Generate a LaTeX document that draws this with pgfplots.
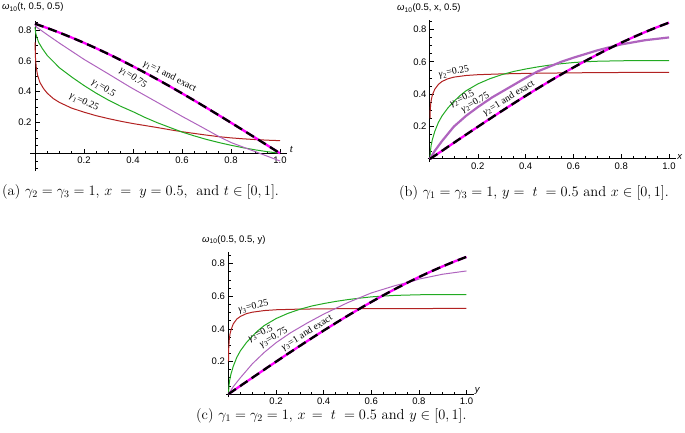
\documentclass[border=0pt]{standalone}
\usepackage{pgfplots}
\pgfplotsset{compat=1.18}
\usepackage{fontspec}
\newfontfamily\arial{Liberation Sans}
\newfontfamily\tnr{Liberation Serif}
\definecolor{cred}{RGB}{178,34,34}
\definecolor{cgreen}{RGB}{34,170,34}
\definecolor{cpurple}{RGB}{175,100,190}
\definecolor{cmag}{RGB}{255,0,255}
\pgfplotsset{
  mma/.style={
    scale only axis, axis lines=middle, clip=false,
    axis line style={-, line width=1.0pt},
    every tick/.style={black, line width=0.6pt},
    major tick length=4.5pt, minor tick length=2.5pt,
    tick align=inside,
    xtick={0.2,0.4,0.6,0.8,1}, xticklabels={0.2,0.4,0.6,0.8,1.0},
    ytick={0.2,0.4,0.6,0.8}, yticklabels={0.2,0.4,0.6,0.8},
    minor xtick={0.05,0.1,0.15,0.25,0.3,0.35,0.45,0.5,0.55,0.65,0.7,0.75,0.85,0.9,0.95},
    tick label style={font=\arial\fontsize{9.5}{11}\selectfont},
    every axis plot/.style={line width=1.0pt, no markers},
  },
  exactm/.style={cmag, line width=2.3pt},
  exactk/.style={black, line width=2.3pt, dash pattern=on 9pt off 5pt},
}
\tikzset{lab/.style={font=\tnr\fontsize{9.8}{11}\selectfont, inner sep=0pt}}
\newcommand{\g}[1]{\textit{γ}\textsubscript{#1}}
\begin{document}
\begin{tikzpicture}
\useasboundingbox (0pt,0pt) rectangle (685pt,-433pt);
% ---------------- panel (a)
\begin{axis}[mma, at={(30.1pt,-171.0pt)}, anchor=south west, width=257.25pt, height=150.15pt,
  xmin=-0.02, xmax=1.03, ymin=-0.115, ymax=0.86,
  minor ytick={-0.1,-0.05,0.05,0.1,0.15,0.25,0.3,0.35,0.45,0.5,0.55,0.65,0.7,0.75,0.85}]
\addplot[cred] coordinates {(0,0.72)(0.002,0.62)(0.005,0.56)(0.01,0.51)(0.02,0.46)(0.035,0.42)(0.05,0.39)(0.075,0.355)(0.1,0.33)(0.15,0.293)(0.2,0.267)(0.25,0.244)(0.3,0.225)(0.35,0.208)(0.4,0.193)(0.45,0.18)(0.5,0.167)(0.55,0.153)(0.6,0.14)(0.65,0.129)(0.7,0.118)(0.75,0.108)(0.8,0.1)(0.85,0.094)(0.9,0.089)(0.95,0.085)(1,0.082)};
\addplot[cgreen] coordinates {(0,0.82)(0.003,0.78)(0.008,0.75)(0.015,0.72)(0.03,0.68)(0.05,0.635)(0.075,0.595)(0.1,0.555)(0.15,0.495)(0.2,0.44)(0.25,0.39)(0.3,0.345)(0.35,0.305)(0.4,0.27)(0.45,0.232)(0.5,0.198)(0.55,0.168)(0.6,0.138)(0.65,0.113)(0.7,0.09)(0.75,0.07)(0.8,0.052)(0.85,0.036)(0.9,0.022)(0.95,0.01)(1,0.0)};
\addplot[cpurple] coordinates {(0,0.83)(0.01,0.815)(0.05,0.77)(0.1,0.715)(0.2,0.61)(0.3,0.515)(0.388,0.43)(0.5,0.33)(0.6,0.24)(0.673,0.177)(0.755,0.105)(0.8,0.07)(0.87,0.028)(0.95,-0.02)(1,-0.05)};
\addplot[exactm] coordinates {(0,0.84147)(0.05,0.81342)(0.1,0.78333)(0.15,0.75128)(0.2,0.71736)(0.25,0.68164)(0.3,0.64422)(0.35,0.60519)(0.4,0.56464)(0.45,0.52269)(0.5,0.47943)(0.55,0.43497)(0.6,0.38942)(0.65,0.34290)(0.7,0.29552)(0.75,0.24740)(0.8,0.19867)(0.85,0.14944)(0.9,0.09983)(0.95,0.04998)(1,0)};
\addplot[exactk] coordinates {(0,0.84147)(0.05,0.81342)(0.1,0.78333)(0.15,0.75128)(0.2,0.71736)(0.25,0.68164)(0.3,0.64422)(0.35,0.60519)(0.4,0.56464)(0.45,0.52269)(0.5,0.47943)(0.55,0.43497)(0.6,0.38942)(0.65,0.34290)(0.7,0.29552)(0.75,0.24740)(0.8,0.19867)(0.85,0.14944)(0.9,0.09983)(0.95,0.04998)(1,0)};
\node[lab, rotate=-27] at (axis cs:0.55,0.50) {\g{1}=1 and exact};
\node[lab, rotate=-34] at (axis cs:0.40,0.49) {\g{1}=0.75};
\node[lab, rotate=-32] at (axis cs:0.28,0.42) {\g{1}=0.5};
\node[lab, rotate=-25] at (axis cs:0.20,0.33) {\g{1}=0.25};
\node[anchor=west, inner sep=1pt] at (axis cs:1.035,0.025) {\tnr\itshape\fontsize{11}{12}\selectfont t};
\end{axis}
\node[anchor=base west, inner sep=0pt] at (2pt,-10pt) {\arial\fontsize{9.5}{11}\selectfont\textit{ω}\textsubscript{10}(t, 0.5, 0.5)};
\node[anchor=base west, inner sep=0pt] at (2pt,-195pt) {\fontsize{14.5}{16}\selectfont (a) $\gamma_2=\gamma_3=1$, $x\;=\;y=0.5,$\; and $t\in[0,1]$.};
% ---------------- panel (b)
\begin{axis}[mma, at={(427.6pt,-162.2pt)}, anchor=south west, width=248.6pt, height=142.6pt,
  xmin=-0.01, xmax=1.03, ymin=-0.02, ymax=0.86,
  minor ytick={0.05,0.1,0.15,0.25,0.3,0.35,0.45,0.5,0.55,0.65,0.7,0.75,0.85}]
\addplot[cred] coordinates {(0,0.25)(0.001,0.3)(0.003,0.34)(0.006,0.37)(0.01,0.395)(0.02,0.43)(0.035,0.46)(0.05,0.478)(0.075,0.495)(0.1,0.505)(0.15,0.515)(0.2,0.52)(0.3,0.525)(0.4,0.528)(0.5,0.53)(0.7,0.533)(1,0.535)};
\addplot[cgreen] coordinates {(0,0)(0.002,0.05)(0.005,0.085)(0.01,0.12)(0.02,0.17)(0.035,0.225)(0.05,0.265)(0.075,0.315)(0.1,0.355)(0.125,0.39)(0.15,0.42)(0.2,0.463)(0.25,0.495)(0.3,0.52)(0.35,0.54)(0.4,0.555)(0.45,0.568)(0.5,0.579)(0.55,0.588)(0.6,0.595)(0.65,0.6)(0.7,0.603)(0.8,0.606)(0.9,0.607)(1,0.607)};
\addplot[cpurple, line width=2.2pt] coordinates {(0,0)(0.02,0.05)(0.05,0.11)(0.1,0.2)(0.15,0.265)(0.2,0.32)(0.26,0.38)(0.33,0.44)(0.4,0.5)(0.45,0.54)(0.5,0.57)(0.55,0.6)(0.6,0.625)(0.7,0.67)(0.76,0.693)(0.8,0.707)(0.9,0.733)(1,0.75)};
\addplot[exactm] coordinates {(0,0)(0.05,0.04998)(0.1,0.09983)(0.15,0.14944)(0.2,0.19867)(0.25,0.24740)(0.3,0.29552)(0.35,0.34290)(0.4,0.38942)(0.45,0.43497)(0.5,0.47943)(0.55,0.52269)(0.6,0.56464)(0.65,0.60519)(0.7,0.64422)(0.75,0.68164)(0.8,0.71736)(0.85,0.75128)(0.9,0.78333)(0.95,0.81342)(1,0.84147)};
\addplot[exactk] coordinates {(0,0)(0.05,0.04998)(0.1,0.09983)(0.15,0.14944)(0.2,0.19867)(0.25,0.24740)(0.3,0.29552)(0.35,0.34290)(0.4,0.38942)(0.45,0.43497)(0.5,0.47943)(0.55,0.52269)(0.6,0.56464)(0.65,0.60519)(0.7,0.64422)(0.75,0.68164)(0.8,0.71736)(0.85,0.75128)(0.9,0.78333)(0.95,0.81342)(1,0.84147)};
\node[lab, rotate=12] at (axis cs:0.10,0.535) {\g{2}=0.25};
\node[lab, rotate=25] at (axis cs:0.135,0.37) {\g{2}=0.5};
\node[lab, rotate=30] at (axis cs:0.19,0.345) {\g{2}=0.75};
\node[lab, rotate=31] at (axis cs:0.33,0.375) {\g{2}=1 and exact};
\node[anchor=west, inner sep=1pt] at (axis cs:1.03,0.015) {\arial\itshape\fontsize{9.5}{11}\selectfont x};
\end{axis}
\node[anchor=base west, inner sep=0pt] at (397pt,-11pt) {\arial\fontsize{9.5}{11}\selectfont\textit{ω}\textsubscript{10}(0.5, x, 0.5)};
\node[anchor=base west, inner sep=0pt] at (399pt,-196.5pt) {\fontsize{14.5}{16}\selectfont (b) $\gamma_1=\gamma_3=1$, $y=\;t\;=0.5$ and $x\in[0,1]$.};
% ---------------- panel (c)
\begin{axis}[mma, at={(226.1pt,-397.3pt)}, anchor=south west, width=247.5pt, height=145.1pt,
  xmin=-0.01, xmax=1.03, ymin=-0.02, ymax=0.87,
  minor ytick={0.05,0.1,0.15,0.25,0.3,0.35,0.45,0.5,0.55,0.65,0.7,0.75,0.85}]
\addplot[cred] coordinates {(0,0.2)(0.001,0.28)(0.003,0.33)(0.006,0.365)(0.01,0.39)(0.02,0.43)(0.035,0.46)(0.05,0.476)(0.075,0.493)(0.1,0.502)(0.15,0.512)(0.2,0.517)(0.3,0.521)(0.5,0.524)(1,0.525)};
\addplot[cgreen] coordinates {(0,0)(0.002,0.05)(0.005,0.085)(0.01,0.12)(0.02,0.17)(0.035,0.225)(0.05,0.265)(0.075,0.315)(0.1,0.355)(0.125,0.39)(0.15,0.42)(0.2,0.463)(0.25,0.495)(0.3,0.52)(0.35,0.54)(0.4,0.555)(0.45,0.568)(0.5,0.579)(0.55,0.588)(0.6,0.596)(0.65,0.601)(0.7,0.605)(0.8,0.609)(0.9,0.61)(1,0.61)};
\addplot[cpurple] coordinates {(0,0)(0.02,0.045)(0.05,0.1)(0.1,0.185)(0.15,0.255)(0.2,0.315)(0.26,0.375)(0.33,0.435)(0.4,0.49)(0.45,0.525)(0.5,0.56)(0.55,0.59)(0.6,0.62)(0.7,0.665)(0.78,0.695)(0.8,0.705)(0.9,0.735)(1,0.755)};
\addplot[exactm] coordinates {(0,0)(0.05,0.04998)(0.1,0.09983)(0.15,0.14944)(0.2,0.19867)(0.25,0.24740)(0.3,0.29552)(0.35,0.34290)(0.4,0.38942)(0.45,0.43497)(0.5,0.47943)(0.55,0.52269)(0.6,0.56464)(0.65,0.60519)(0.7,0.64422)(0.75,0.68164)(0.8,0.71736)(0.85,0.75128)(0.9,0.78333)(0.95,0.81342)(1,0.84147)};
\addplot[exactk] coordinates {(0,0)(0.05,0.04998)(0.1,0.09983)(0.15,0.14944)(0.2,0.19867)(0.25,0.24740)(0.3,0.29552)(0.35,0.34290)(0.4,0.38942)(0.45,0.43497)(0.5,0.47943)(0.55,0.52269)(0.6,0.56464)(0.65,0.60519)(0.7,0.64422)(0.75,0.68164)(0.8,0.71736)(0.85,0.75128)(0.9,0.78333)(0.95,0.81342)(1,0.84147)};
\node[lab, rotate=14] at (axis cs:0.105,0.535) {\g{3}=0.25};
\node[lab, rotate=25] at (axis cs:0.135,0.37) {\g{3}=0.5};
\node[lab, rotate=30] at (axis cs:0.19,0.345) {\g{3}=0.75};
\node[lab, rotate=32] at (axis cs:0.33,0.375) {\g{3}=1 and exact};
\node[anchor=west, inner sep=1pt] at (axis cs:1.03,0.02) {\arial\itshape\fontsize{9.5}{11}\selectfont y};
\end{axis}
\node[anchor=base west, inner sep=0pt] at (202pt,-242pt) {\arial\fontsize{9.5}{11}\selectfont\textit{ω}\textsubscript{10}(0.5, 0.5, y)};
\node[anchor=base west, inner sep=0pt] at (196pt,-419.5pt) {\fontsize{14.5}{16}\selectfont (c) $\gamma_1=\gamma_2=1$, $x\,=\;t\;=0.5$ and $y\in[0,1]$.};
\end{tikzpicture}
\end{document}
